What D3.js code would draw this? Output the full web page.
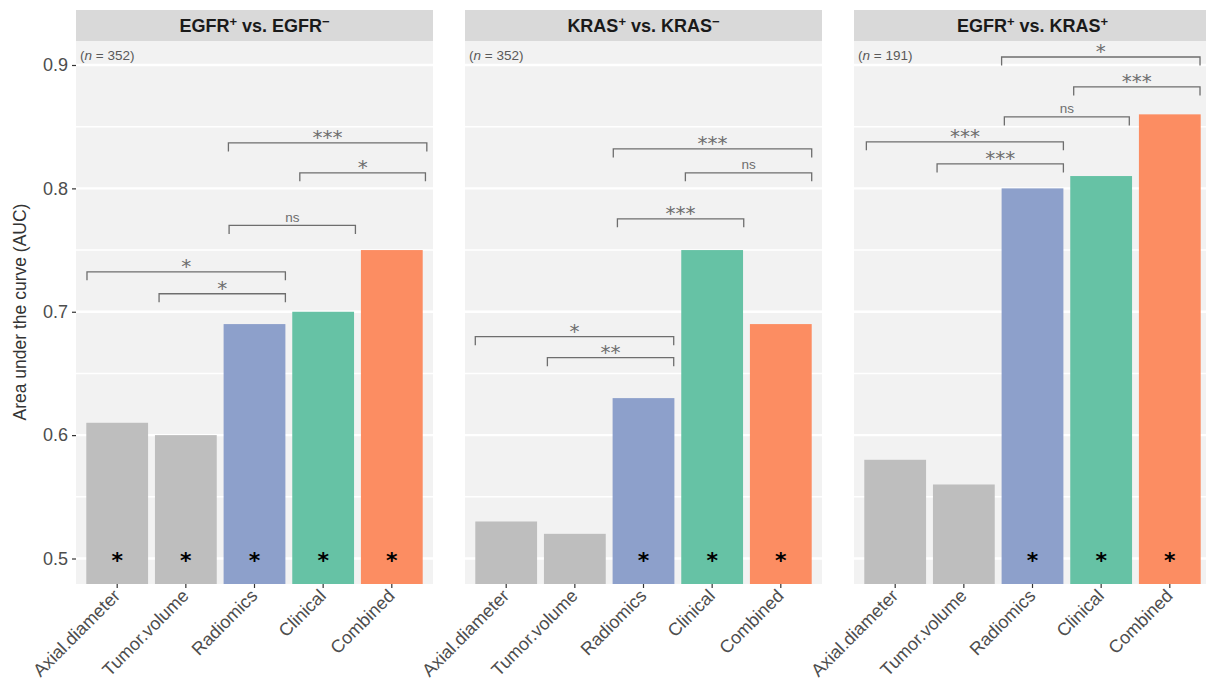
<!DOCTYPE html>
<html><head><meta charset="utf-8">
<script src="https://cdn.jsdelivr.net/npm/d3@7"></script>
<style>body{margin:0;background:#fff} svg{display:block}</style>
</head><body><svg id="c" width="1206" height="682"></svg>
<script>
// ---------- data ----------
const categories = ["Axial.diameter","Tumor.volume","Radiomics","Clinical","Combined"];
const panelTitles = [["EGFR","+"," vs. EGFR","\u2212"],["KRAS","+"," vs. KRAS","\u2212"],["EGFR","+"," vs. KRAS","+"]];
const panelN = [352, 352, 191];
const aucEgfrPosNeg = [0.61, 0.60, 0.69, 0.70, 0.75];
const aucKrasPosNeg = [0.53, 0.52, 0.63, 0.75, 0.69];
const aucEgfrKras   = [0.58, 0.56, 0.80, 0.81, 0.86];
const barSigEgfrPosNeg = ["*","*","*","*","*"];
const barSigKrasPosNeg = ["","","*","*","*"];
const barSigEgfrKras   = ["","","*","*","*"];
// brackets: x1/x2 in category position units (1..5), y in AUC units
const bracketsEgfrPosNeg = [
  {x1:0.56, x2:3.45, y:0.7324, label:"*"},
  {x1:1.61, x2:3.45, y:0.7146, label:"*"},
  {x1:2.63, x2:4.47, y:0.7700, label:"ns"},
  {x1:3.66, x2:5.49, y:0.8126, label:"*"},
  {x1:2.62, x2:5.51, y:0.8368, label:"***"}
];
const bracketsKrasPosNeg = [
  {x1:0.55, x2:3.44, y:0.6798, label:"*"},
  {x1:1.60, x2:3.44, y:0.6628, label:"**"},
  {x1:2.56, x2:5.45, y:0.8320, label:"***"},
  {x1:3.61, x2:5.45, y:0.8126, label:"ns"},
  {x1:2.62, x2:4.46, y:0.7753, label:"***"}
];
const bracketsEgfrKras = [
  {x1:2.55, x2:5.44, y:0.9065, label:"*"},
  {x1:3.60, x2:5.44, y:0.8822, label:"***"},
  {x1:2.59, x2:4.41, y:0.8579, label:"ns"},
  {x1:0.58, x2:3.45, y:0.8377, label:"***"},
  {x1:1.61, x2:3.45, y:0.8198, label:"***"}
];
const yTicks = [0.5, 0.6, 0.7, 0.8, 0.9];
const yMinor = [0.55, 0.65, 0.75, 0.85];
const barColors = ["#BEBEBE","#BEBEBE","#8DA0CB","#66C2A5","#FC8D62"];
const yTitle = "Area under the curve (AUC)";

const panels = [
  {title: panelTitles[0], n: panelN[0], values: aucEgfrPosNeg, sig: barSigEgfrPosNeg, brackets: bracketsEgfrPosNeg},
  {title: panelTitles[1], n: panelN[1], values: aucKrasPosNeg, sig: barSigKrasPosNeg, brackets: bracketsKrasPosNeg},
  {title: panelTitles[2], n: panelN[2], values: aucEgfrKras,   sig: barSigEgfrKras,   brackets: bracketsEgfrKras}
];

// ---------- layout ----------
const svg = d3.select("#c");
const panelLefts = [76, 465, 854];
const panelW = 357;
const stripTop = 10, panelTop = 41, panelBottom = 584;
const y = d3.scaleLinear().domain([0.5, 0.9]).range([558.5, 65]);
const FONT = "'Liberation Sans', Arial, Helvetica, sans-serif";
const STARFONT = "'DejaVu Sans', sans-serif";

panels.forEach((p, pi) => {
  const left = panelLefts[pi];
  const g = svg.append("g");
  const xb = d3.scaleBand().domain(categories).range([left, left + panelW]).paddingInner(0.1).paddingOuter(0.15);
  const xc = d3.scaleLinear().domain([0.4, 5.6]).range([left, left + panelW]);

  // panel background
  g.append("rect").attr("x", left).attr("y", panelTop).attr("width", panelW).attr("height", panelBottom - panelTop).attr("fill", "#F2F2F2");
  // grid
  g.selectAll(".minor").data(yMinor).join("line")
    .attr("x1", left).attr("x2", left + panelW).attr("y1", d => y(d)).attr("y2", d => y(d))
    .attr("stroke", "#fff").attr("stroke-width", 1.4);
  g.selectAll(".major").data(yTicks).join("line")
    .attr("x1", left).attr("x2", left + panelW).attr("y1", d => y(d)).attr("y2", d => y(d))
    .attr("stroke", "#fff").attr("stroke-width", 2.4);

  // strip
  g.append("rect").attr("x", left).attr("y", stripTop).attr("width", panelW).attr("height", panelTop - stripTop).attr("fill", "#D9D9D9");
  const t = g.append("text").attr("x", left + panelW / 2).attr("y", 32).attr("text-anchor", "middle")
    .attr("font-family", FONT).attr("font-weight", "bold").attr("font-size", 18).attr("fill", "#1A1A1A");
  t.append("tspan").text(p.title[0]);
  t.append("tspan").attr("font-size", 13).attr("dy", -6).text(p.title[1]);
  t.append("tspan").attr("font-size", 18).attr("dy", 6).text(p.title[2]);
  t.append("tspan").attr("font-size", 13).attr("dy", -6).text(p.title[3]);

  // n label
  const nt = g.append("text").attr("x", left + 4).attr("y", 60).attr("font-family", FONT).attr("font-size", 13.5).attr("fill", "#595959");
  nt.append("tspan").text("(");
  nt.append("tspan").attr("font-style", "italic").text("n");
  nt.append("tspan").text(" = " + p.n + ")");

  // bars
  g.selectAll(".bar").data(categories).join("rect")
    .attr("x", d => xb(d)).attr("width", xb.bandwidth())
    .attr("y", (d, i) => y(p.values[i])).attr("height", (d, i) => panelBottom - y(p.values[i]))
    .attr("fill", (d, i) => barColors[i]);

  // bar significance stars
  g.selectAll(".sig").data(categories).join("text")
    .attr("x", d => xb(d) + xb.bandwidth() / 2).attr("y", y(0.5) + 9)
    .attr("text-anchor", "middle").attr("font-family", STARFONT).attr("font-weight", "bold").attr("font-size", 22).attr("fill", "#000")
    .text((d, i) => p.sig[i]);

  // brackets
  const tick = 8.5;
  g.selectAll(".br").data(p.brackets).join("path")
    .attr("d", b => `M${xc(b.x1)},${y(b.y) + tick}V${y(b.y)}H${xc(b.x2)}V${y(b.y) + tick}`)
    .attr("fill", "none").attr("stroke", "#6E6E6E").attr("stroke-width", 1.3);
  g.selectAll(".brl").data(p.brackets).join("text")
    .attr("x", b => (xc(b.x1) + xc(b.x2)) / 2)
    .attr("y", b => b.label === "ns" ? y(b.y) - 3.5 : y(b.y) + 1)
    .attr("text-anchor", "middle")
    .attr("font-family", b => b.label === "ns" ? FONT : STARFONT)
    .attr("font-size", b => b.label === "ns" ? 13.5 : 20)
    .attr("fill", "#6E6E6E")
    .text(b => b.label);

  // x axis
  const xa = g.append("g").attr("transform", `translate(0,${panelBottom})`)
    .call(d3.axisBottom(xb).tickSize(4).tickPadding(3));
  xa.select(".domain").remove();
  xa.selectAll(".tick line").attr("stroke", "#333").attr("stroke-width", 1.2);
  xa.selectAll(".tick text")
    .attr("x", 0).attr("y", 0).attr("dy", null)
    .attr("transform", "translate(4,13) rotate(-45)")
    .style("text-anchor", "end")
    .attr("font-family", FONT).attr("font-size", 18).attr("fill", "#4D4D4D");

  // y axis (first panel only)
  if (pi === 0) {
    const ya = svg.append("g").attr("transform", `translate(${left},0)`)
      .call(d3.axisLeft(y).tickValues(yTicks).tickFormat(d3.format(".1f")).tickSize(4).tickPadding(4));
    ya.select(".domain").remove();
    ya.selectAll(".tick line").attr("stroke", "#333").attr("stroke-width", 1.2);
    ya.selectAll(".tick text").attr("font-family", FONT).attr("font-size", 18).attr("fill", "#4D4D4D");
  }
});

svg.append("text").attr("transform", "translate(26,312) rotate(-90)").attr("text-anchor", "middle")
  .attr("font-family", FONT).attr("font-size", 17.5).attr("fill", "#333").text(yTitle);
</script>
</body></html>
